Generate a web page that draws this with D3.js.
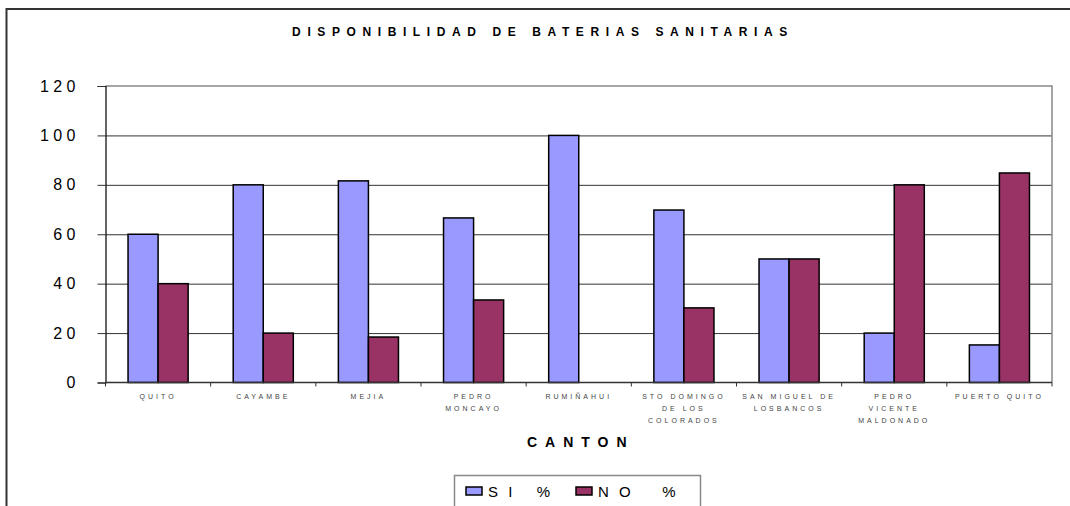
<!DOCTYPE html>
<meta charset="utf-8">
<style>
  body { margin: 0; background: #fff; }
  svg { display: block; font-family: "Liberation Sans", Arial, sans-serif; }
</style>
<body>
<div id="chart"></div>
<script src="https://d3js.org/d3.v7.min.js"></script>
<script>
// categories (each label split into its printed lines)
const cantones = [
  ["QUITO"],
  ["CAYAMBE"],
  ["MEJIA"],
  ["PEDRO", "MONCAYO"],
  ["RUMIÑAHUI"],
  ["STO DOMINGO", "DE LOS", "COLORADOS"],
  ["SAN MIGUEL DE", "LOSBANCOS"],
  ["PEDRO", "VICENTE", "MALDONADO"],
  ["PUERTO QUITO"]
];
const siValues = [60, 80, 81.6, 66.6, 100, 69.8, 50, 20, 15.2];
const noValues = [40, 20, 18.4, 33.4, 0, 30.2, 50, 80, 84.8];
const series = ["S I   %", "N O    %"];
const yTicks = [0, 20, 40, 60, 80, 100, 120];

const W = 1070, H = 506;
const plot = {left: 105.5, right: 1052, top: 86, bottom: 382.5};

const svg = d3.select("#chart").append("svg")
    .attr("width", W).attr("height", H);

// outer chart frame
svg.append("path")
    .attr("d", `M6.5,${H} V9 H${W}`)
    .attr("fill", "none").attr("stroke", "#333").attr("stroke-width", 2);

// title
svg.append("text")
    .attr("x", 543).attr("y", 36)
    .attr("text-anchor", "middle")
    .attr("font-size", 12).attr("font-weight", "bold")
    .attr("letter-spacing", 6.6)
    .text("DISPONIBILIDAD DE BATERIAS SANITARIAS");

const keys = cantones.map(d => d.join(" "));
const x0 = d3.scaleBand().domain(keys).range([plot.left, plot.right]);
const x1 = d3.scaleBand().domain(series).range([0, x0.bandwidth()])
    .paddingInner(0).paddingOuter(0.75);
const y = d3.scaleLinear().domain([0, 120]).range([plot.bottom, plot.top]);
const color = d3.scaleOrdinal().domain(series).range(["#9999ff", "#993366"]);

// gridlines
svg.append("g")
    .attr("transform", `translate(${plot.left},0)`)
    .call(d3.axisLeft(y).tickValues(yTicks.slice(1, -1))
      .tickSize(-(plot.right - plot.left)).tickFormat(""))
    .call(g => g.select(".domain").remove())
    .call(g => g.selectAll("line").attr("stroke", "#333"));

// plot border (top/right)
svg.append("path")
    .attr("d", `M${plot.left},${plot.top} H${plot.right} V${plot.bottom}`)
    .attr("fill", "none").attr("stroke", "#888").attr("stroke-width", 1.5);

// bars
const rows = keys.map((k, i) => ({key: k, vals: [siValues[i], noValues[i]]}));
svg.append("g").selectAll("g")
  .data(rows).join("g")
    .attr("transform", d => `translate(${x0(d.key)},0)`)
  .selectAll("rect")
  .data(d => d.vals.map((v, j) => ({s: series[j], v})).filter(d => d.v > 0))
  .join("rect")
    .attr("x", d => x1(d.s))
    .attr("y", d => y(d.v))
    .attr("width", x1.bandwidth())
    .attr("height", d => y(0) - y(d.v))
    .attr("fill", d => color(d.s))
    .attr("stroke", "#000").attr("stroke-width", 1.5);

// y axis
const yAxis = svg.append("g")
    .attr("transform", `translate(${plot.left},0)`)
    .call(d3.axisLeft(y).tickValues(yTicks).tickSize(8).tickPadding(0)
      .tickFormat(d => String(d).split("").join(" ")));
yAxis.select(".domain").attr("stroke", "#000").attr("stroke-width", 1.2);
yAxis.selectAll("line").attr("stroke", "#333");
yAxis.selectAll("text")
    .attr("x", -30).attr("font-size", 16).attr("fill", "#000")
    .attr("xml:space", "preserve").style("white-space", "pre");

// x axis with ticks at category boundaries
const xAxis = svg.append("g");
xAxis.append("line")
    .attr("x1", plot.left).attr("x2", plot.right)
    .attr("y1", plot.bottom).attr("y2", plot.bottom)
    .attr("stroke", "#333").attr("stroke-width", 1.5);
xAxis.selectAll("line.tk")
  .data(keys.concat([null])).join("line")
    .attr("class", "tk")
    .attr("x1", d => d === null ? plot.right : x0(d))
    .attr("x2", d => d === null ? plot.right : x0(d))
    .attr("y1", plot.bottom).attr("y2", plot.bottom + 4)
    .attr("stroke", "#333");

// category labels
svg.append("g").selectAll("text")
  .data(cantones).join("text")
    .attr("x", (d, i) => x0(keys[i]) + x0.bandwidth() / 2)
    .attr("y", 399)
    .attr("text-anchor", "middle")
    .attr("font-size", 7).attr("fill", "#444")
    .attr("letter-spacing", 3)
  .selectAll("tspan")
  .data(d => d).join("tspan")
    .attr("x", function() { return this.parentNode.getAttribute("x"); })
    .attr("dy", (d, i) => i === 0 ? 0 : 12)
    .text(d => d);

// axis title
svg.append("text")
    .attr("x", (plot.left + plot.right) / 2 + 2).attr("y", 447)
    .attr("text-anchor", "middle")
    .attr("font-size", 14).attr("font-weight", "bold")
    .attr("letter-spacing", 8)
    .text("CANTON");

// legend
const lg = svg.append("g");
lg.append("path")
    .attr("d", `M454.5,${H} V475.5 H700.5 V${H}`)
    .attr("fill", "none").attr("stroke", "#888").attr("stroke-width", 1.5);
const lx = [466, 576];
series.forEach((s, i) => {
  lg.append("rect")
      .attr("x", lx[i]).attr("y", 487).attr("width", 16).attr("height", 8)
      .attr("fill", color(s)).attr("stroke", "#000").attr("stroke-width", 1.5);
  lg.append("text")
      .attr("x", lx[i] + 22).attr("y", 497)
      .attr("font-size", 15).attr("letter-spacing", 3)
      .attr("xml:space", "preserve").style("white-space", "pre")
      .text(s);
});
</script>
</body>
